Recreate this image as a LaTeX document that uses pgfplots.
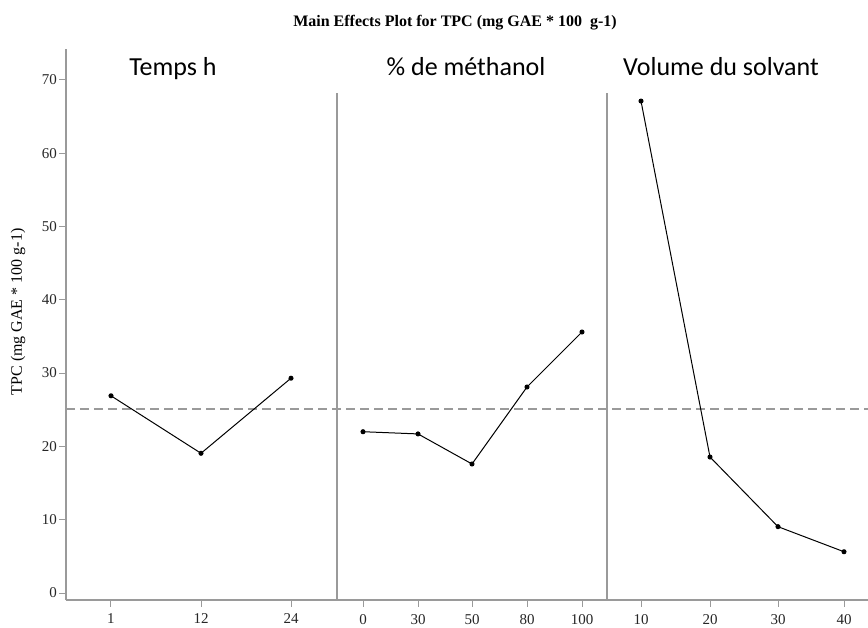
\documentclass[border=0pt]{standalone}
\usepackage{fontspec}
\setmainfont{Liberation Serif}
\newfontfamily\calibri{Carlito}
\usepackage{pgfplots}
\pgfplotsset{compat=1.18}
\definecolor{axgray}{HTML}{9A9A9A}
\begin{document}
\begin{tikzpicture}
\useasboundingbox (-66pt,-27pt) rectangle (802pt,600pt);
\begin{axis}[
  at={(0pt,0pt)}, anchor=south west,
  scale only axis, width=802pt, height=551pt,
  xmin=0, xmax=802, ymin=-0.95, ymax=74.2,
  axis x line*=bottom, axis y line*=left,
  axis line style={axgray, line width=1.2pt, -},
  xtick={45,135,225,297,352,406,461,516,575,644,712,778},
  xticklabels={1,12,24,0,30,50,80,100,10,20,30,40},
  ytick={0,10,20,30,40,50,60,70},
  tick align=outside,
  major tick length=6.5pt,
  tick style={axgray, line width=1pt},
  ticklabel style={font=\fontsize{15}{17}\selectfont, text=black!85},
  yticklabel style={xshift=1pt},
  xticklabel style={yshift=-4pt},
  /pgf/number format/assume math mode=true,
  clip=false,
]
% grand mean
\addplot[axgray, line width=1.3pt, dash pattern=on 9pt off 5pt] coordinates {(0,25.08) (802,25.08)};
% panel dividers
\addplot[axgray, line width=1.2pt] coordinates {(271,-0.95) (271,68.2)};
\addplot[axgray, line width=1.2pt] coordinates {(541,-0.95) (541,68.2)};
% Temps h
\addplot[black, line width=1pt, mark=*, mark size=2pt] coordinates {(45,26.9) (135,19.06) (225,29.3)};
% % de methanol
\addplot[black, line width=1pt, mark=*, mark size=2pt] coordinates {(297,22.0) (352,21.7) (406,17.6) (461,28.1) (516,35.6)};
% Volume du solvant
\addplot[black, line width=1pt, mark=*, mark size=2pt] coordinates {(575,67.1) (644,18.55) (712,9.05) (778,5.63)};
\end{axis}
\node[anchor=base, font=\bfseries\fontsize{16}{18}\selectfont] at (389pt,573pt) {Main Effects Plot for TPC (mg GAE * 100\ \ g-1)};
\node[rotate=90, font=\fontsize{16}{18}\selectfont] at (-48pt,288pt) {TPC (mg GAE * 100 g-1)};
\node[anchor=base, font=\calibri\fontsize{26}{30}\selectfont] at (107pt,524pt) {Temps h};
\node[anchor=base, font=\calibri\fontsize{26}{30}\selectfont] at (400pt,524pt) {\% de méthanol};
\node[anchor=base, font=\calibri\fontsize{26}{30}\selectfont] at (655pt,524pt) {Volume du solvant};
\end{tikzpicture}
\end{document}
